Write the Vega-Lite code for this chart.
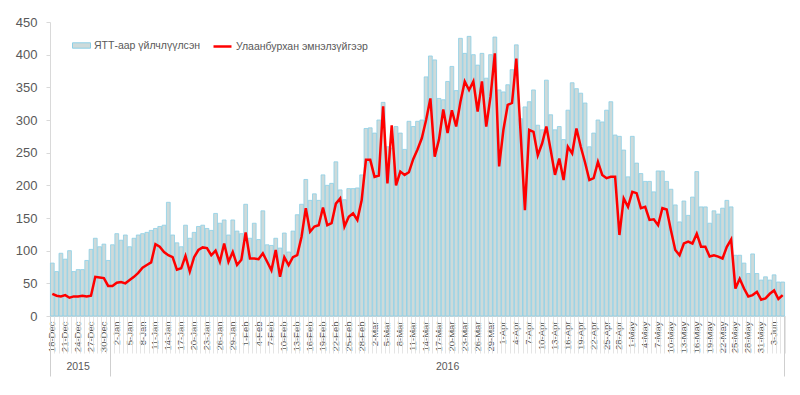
{
  "$schema": "https://vega.github.io/schema/vega-lite/v6.json",
  "width": 735,
  "height": 294,
  "autosize": {"type": "none"},
  "padding": {"left": 50, "top": 22, "right": 15, "bottom": 79},
  "background": "white",
  "config": {"view": {"stroke": null}, "font": "Liberation Sans", "legend": {"padding": 0}},
  "data": {"values": [
    {"day":"18-Dec","yatt":81,"measles":34},{"day":"19-Dec","yatt":68,"measles":31},{"day":"20-Dec","yatt":96,"measles":30},{"day":"21-Dec","yatt":87,"measles":32},{"day":"22-Dec","yatt":100,"measles":28},{"day":"23-Dec","yatt":68,"measles":30},{"day":"24-Dec","yatt":71,"measles":30},{"day":"25-Dec","yatt":71,"measles":31},{"day":"26-Dec","yatt":85,"measles":30},{"day":"27-Dec","yatt":102,"measles":31},{"day":"28-Dec","yatt":119,"measles":60},{"day":"29-Dec","yatt":106,"measles":59},{"day":"30-Dec","yatt":110,"measles":58},{"day":"31-Dec","yatt":85,"measles":46},
    {"day":"1-Jan","yatt":109,"measles":46},{"day":"2-Jan","yatt":126,"measles":51},{"day":"3-Jan","yatt":116,"measles":52},{"day":"4-Jan","yatt":124,"measles":50},{"day":"5-Jan","yatt":106,"measles":55},{"day":"6-Jan","yatt":119,"measles":60},{"day":"7-Jan","yatt":124,"measles":66},{"day":"8-Jan","yatt":126,"measles":74},{"day":"9-Jan","yatt":128,"measles":78},{"day":"10-Jan","yatt":131,"measles":82},{"day":"11-Jan","yatt":134,"measles":110},{"day":"12-Jan","yatt":137,"measles":106},{"day":"13-Jan","yatt":139,"measles":98},{"day":"14-Jan","yatt":174,"measles":93},{"day":"15-Jan","yatt":124,"measles":90},{"day":"16-Jan","yatt":112,"measles":71},{"day":"17-Jan","yatt":106,"measles":73},{"day":"18-Jan","yatt":139,"measles":92},{"day":"19-Jan","yatt":119,"measles":68},{"day":"20-Jan","yatt":128,"measles":90},{"day":"21-Jan","yatt":137,"measles":101},{"day":"22-Jan","yatt":139,"measles":105},{"day":"23-Jan","yatt":134,"measles":104},{"day":"24-Jan","yatt":131,"measles":93},{"day":"25-Jan","yatt":157,"measles":100},{"day":"26-Jan","yatt":142,"measles":83},{"day":"27-Jan","yatt":147,"measles":111},{"day":"28-Jan","yatt":124,"measles":83},{"day":"29-Jan","yatt":147,"measles":98},{"day":"30-Jan","yatt":130,"measles":78},{"day":"31-Jan","yatt":126,"measles":86},
    {"day":"1-Feb","yatt":171,"measles":128},{"day":"2-Feb","yatt":119,"measles":88},{"day":"3-Feb","yatt":142,"measles":88},{"day":"4-Feb","yatt":117,"measles":87},{"day":"5-Feb","yatt":161,"measles":96},{"day":"6-Feb","yatt":109,"measles":83},{"day":"7-Feb","yatt":108,"measles":70},{"day":"8-Feb","yatt":119,"measles":101},{"day":"9-Feb","yatt":104,"measles":60},{"day":"10-Feb","yatt":127,"measles":90},{"day":"11-Feb","yatt":98,"measles":78},{"day":"12-Feb","yatt":130,"measles":90},{"day":"13-Feb","yatt":155,"measles":93},{"day":"14-Feb","yatt":171,"measles":121},{"day":"15-Feb","yatt":209,"measles":165},{"day":"16-Feb","yatt":177,"measles":129},{"day":"17-Feb","yatt":187,"measles":137},{"day":"18-Feb","yatt":177,"measles":139},{"day":"19-Feb","yatt":216,"measles":166},{"day":"20-Feb","yatt":200,"measles":139},{"day":"21-Feb","yatt":203,"measles":142},{"day":"22-Feb","yatt":236,"measles":172},{"day":"23-Feb","yatt":193,"measles":180},{"day":"24-Feb","yatt":178,"measles":137},{"day":"25-Feb","yatt":195,"measles":152},{"day":"26-Feb","yatt":195,"measles":157},{"day":"27-Feb","yatt":196,"measles":147},{"day":"28-Feb","yatt":216,"measles":177},{"day":"29-Feb","yatt":287,"measles":239},
    {"day":"1-Mar","yatt":288,"measles":239},{"day":"2-Mar","yatt":280,"measles":213},{"day":"3-Mar","yatt":300,"measles":215},{"day":"4-Mar","yatt":327,"measles":321},{"day":"5-Mar","yatt":259,"measles":203},{"day":"6-Mar","yatt":257,"measles":292},{"day":"7-Mar","yatt":290,"measles":200},{"day":"8-Mar","yatt":280,"measles":221},{"day":"9-Mar","yatt":255,"measles":216},{"day":"10-Mar","yatt":298,"measles":220},{"day":"11-Mar","yatt":290,"measles":240},{"day":"12-Mar","yatt":298,"measles":255},{"day":"13-Mar","yatt":300,"measles":272},{"day":"14-Mar","yatt":366,"measles":300},{"day":"15-Mar","yatt":398,"measles":333},{"day":"16-Mar","yatt":392,"measles":244},{"day":"17-Mar","yatt":333,"measles":270},{"day":"18-Mar","yatt":331,"measles":316},{"day":"19-Mar","yatt":359,"measles":280},{"day":"20-Mar","yatt":382,"measles":315},{"day":"21-Mar","yatt":345,"measles":290},{"day":"22-Mar","yatt":425,"measles":328},{"day":"23-Mar","yatt":402,"measles":359},{"day":"24-Mar","yatt":428,"measles":346},{"day":"25-Mar","yatt":400,"measles":359},{"day":"26-Mar","yatt":384,"measles":313},{"day":"27-Mar","yatt":402,"measles":359},{"day":"28-Mar","yatt":364,"measles":290},{"day":"29-Mar","yatt":400,"measles":336},{"day":"30-Mar","yatt":427,"measles":402},{"day":"31-Mar","yatt":346,"measles":229},
    {"day":"1-Apr","yatt":343,"measles":285},{"day":"2-Apr","yatt":354,"measles":323},{"day":"3-Apr","yatt":377,"measles":326},{"day":"4-Apr","yatt":415,"measles":394},{"day":"5-Apr","yatt":302,"measles":280},{"day":"6-Apr","yatt":320,"measles":162},{"day":"7-Apr","yatt":328,"measles":285},{"day":"8-Apr","yatt":346,"measles":282},{"day":"9-Apr","yatt":292,"measles":246},{"day":"10-Apr","yatt":285,"measles":264},{"day":"11-Apr","yatt":361,"measles":290},{"day":"12-Apr","yatt":308,"measles":254},{"day":"13-Apr","yatt":285,"measles":216},{"day":"14-Apr","yatt":290,"measles":241},{"day":"15-Apr","yatt":270,"measles":208},{"day":"16-Apr","yatt":315,"measles":259},{"day":"17-Apr","yatt":357,"measles":249},{"day":"18-Apr","yatt":348,"measles":287},{"day":"19-Apr","yatt":341,"measles":259},{"day":"20-Apr","yatt":326,"measles":235},{"day":"21-Apr","yatt":259,"measles":208},{"day":"22-Apr","yatt":280,"measles":211},{"day":"23-Apr","yatt":300,"measles":236},{"day":"24-Apr","yatt":297,"measles":216},{"day":"25-Apr","yatt":315,"measles":211},{"day":"26-Apr","yatt":328,"measles":213},{"day":"27-Apr","yatt":277,"measles":213},{"day":"28-Apr","yatt":275,"measles":124},{"day":"29-Apr","yatt":254,"measles":180},{"day":"30-Apr","yatt":213,"measles":167},
    {"day":"1-May","yatt":275,"measles":190},{"day":"2-May","yatt":234,"measles":188},{"day":"3-May","yatt":218,"measles":165},{"day":"4-May","yatt":206,"measles":167},{"day":"5-May","yatt":206,"measles":147},{"day":"6-May","yatt":190,"measles":148},{"day":"7-May","yatt":222,"measles":139},{"day":"8-May","yatt":222,"measles":165},{"day":"9-May","yatt":206,"measles":163},{"day":"10-May","yatt":194,"measles":131},{"day":"11-May","yatt":170,"measles":101},{"day":"12-May","yatt":144,"measles":93},{"day":"13-May","yatt":176,"measles":111},{"day":"14-May","yatt":154,"measles":114},{"day":"15-May","yatt":182,"measles":111},{"day":"16-May","yatt":221,"measles":126},{"day":"17-May","yatt":167,"measles":106},{"day":"18-May","yatt":167,"measles":106},{"day":"19-May","yatt":142,"measles":91},{"day":"20-May","yatt":161,"measles":93},{"day":"21-May","yatt":156,"measles":91},{"day":"22-May","yatt":165,"measles":88},{"day":"23-May","yatt":177,"measles":106},{"day":"24-May","yatt":167,"measles":117},{"day":"25-May","yatt":93,"measles":42},{"day":"26-May","yatt":93,"measles":57},{"day":"27-May","yatt":81,"measles":42},{"day":"28-May","yatt":65,"measles":30},{"day":"29-May","yatt":95,"measles":32},{"day":"30-May","yatt":65,"measles":37},{"day":"31-May","yatt":55,"measles":25},
    {"day":"1-Jun","yatt":60,"measles":27},{"day":"2-Jun","yatt":55,"measles":34},{"day":"3-Jun","yatt":63,"measles":39},{"day":"4-Jun","yatt":52,"measles":26},{"day":"5-Jun","yatt":52,"measles":32}
  ]},
  "layer": [
    {
      "mark": {"type": "bar", "stroke": "#8ccfe6", "strokeWidth": 0.8},
      "encoding": {
        "x": {"field": "day", "type": "ordinal", "sort": null,
          "scale": {"type": "band", "paddingInner": 0.12, "paddingOuter": 0.1},
          "axis": {"orient": "bottom", "title": null, "ticks": false, "labelAngle": -90, "labelFontSize": 9.5, "labelColor": "#595959", "labelPadding": 5, "labelOverlap": false, "domainColor": "#d9d9d9",
            "values": ["18-Dec","21-Dec","24-Dec","27-Dec","30-Dec","2-Jan","5-Jan","8-Jan","11-Jan","14-Jan","17-Jan","20-Jan","23-Jan","26-Jan","29-Jan","1-Feb","4-Feb","7-Feb","10-Feb","13-Feb","16-Feb","19-Feb","22-Feb","25-Feb","28-Feb","2-Mar","5-Mar","8-Mar","11-Mar","14-Mar","17-Mar","20-Mar","23-Mar","26-Mar","29-Mar","1-Apr","4-Apr","7-Apr","10-Apr","13-Apr","16-Apr","19-Apr","22-Apr","25-Apr","28-Apr","1-May","4-May","7-May","10-May","13-May","16-May","19-May","22-May","25-May","28-May","31-May","3-Jun"]}},
        "y": {"field": "yatt", "type": "quantitative", "scale": {"domain": [0, 450]},
          "axis": {"title": null, "grid": false, "values": [0,50,100,150,200,250,300,350,400,450], "labelFontSize": 13, "labelColor": "#595959", "tickColor": "#d9d9d9", "tickSize": 4, "domainColor": "#d9d9d9", "labelPadding": 9}},
        "fill": {"datum": "ЯТТ-аар үйлчлүүлсэн",
          "scale": {"range": ["#cddada"]},
          "legend": {"title": null, "orient": "none", "legendX": 22, "legendY": 14, "labelFontSize": 10.5, "labelColor": "#595959", "symbolType": "M-1,-0.3H1V0.3H-1Z", "symbolSize": 324, "symbolStrokeColor": "#8ccfe6", "symbolStrokeWidth": 1, "symbolFillColor": "#cddada", "labelOffset": 3}}
      }
    },
    {
      "mark": {"type": "line", "strokeWidth": 2.5},
      "encoding": {
        "x": {"field": "day", "type": "ordinal", "sort": null, "scale": {"type": "band"},
          "axis": {"orient": "bottom", "title": null, "labels": false, "domain": false, "tickBand": "extent", "tickSize": 37, "tickColor": "#dedede", "tickWidth": 0.8}},
        "y": {"field": "measles", "type": "quantitative",
          "axis": {"title": null, "grid": false, "values": [0,50,100,150,200,250,300,350,400,450], "labelFontSize": 13, "labelColor": "#595959", "tickColor": "#d9d9d9", "tickSize": 4, "domainColor": "#d9d9d9", "labelPadding": 9}},
        "stroke": {"datum": "Улаанбурхан эмнэлзүйгээр",
          "scale": {"range": ["#ff0000"]},
          "legend": {"title": null, "orient": "none", "legendX": 162, "legendY": 14, "labelFontSize": 10.5, "labelColor": "#595959", "symbolType": "stroke", "symbolSize": 324, "symbolStrokeWidth": 2.5, "labelOffset": 3}}
      }
    },
    {
      "mark": {"type": "point", "opacity": 0},
      "encoding": {
        "x": {"field": "day", "type": "ordinal", "sort": null, "scale": {"type": "band"},
          "axis": {"orient": "bottom", "title": null, "ticks": false, "domain": false, "values": ["24-Dec", "19-Mar"], "labelExpr": "datum.value === '24-Dec' ? '2015' : '2016'", "labelAngle": 0, "labelFontSize": 10.5, "labelColor": "#595959", "labelPadding": 45, "labelBaseline": "top"}}
      }
    },
    {
      "mark": {"type": "point", "opacity": 0},
      "encoding": {
        "x": {"field": "day", "type": "ordinal", "sort": null, "scale": {"type": "band"},
          "axis": {"orient": "bottom", "title": null, "labels": false, "domain": false, "values": ["18-Dec", "1-Jan"], "bandPosition": 0, "tickSize": 60, "tickColor": "#cfcfcf", "tickWidth": 1}}
      }
    },
    {
      "mark": {"type": "point", "opacity": 0},
      "encoding": {
        "x": {"field": "day", "type": "ordinal", "sort": null, "scale": {"type": "band"},
          "axis": {"orient": "bottom", "title": null, "labels": false, "domain": false, "values": ["5-Jun"], "bandPosition": 1, "tickSize": 60, "tickColor": "#cfcfcf", "tickWidth": 1}}
      }
    }
  ],
  "resolve": {"axis": {"x": "independent"}}
}
